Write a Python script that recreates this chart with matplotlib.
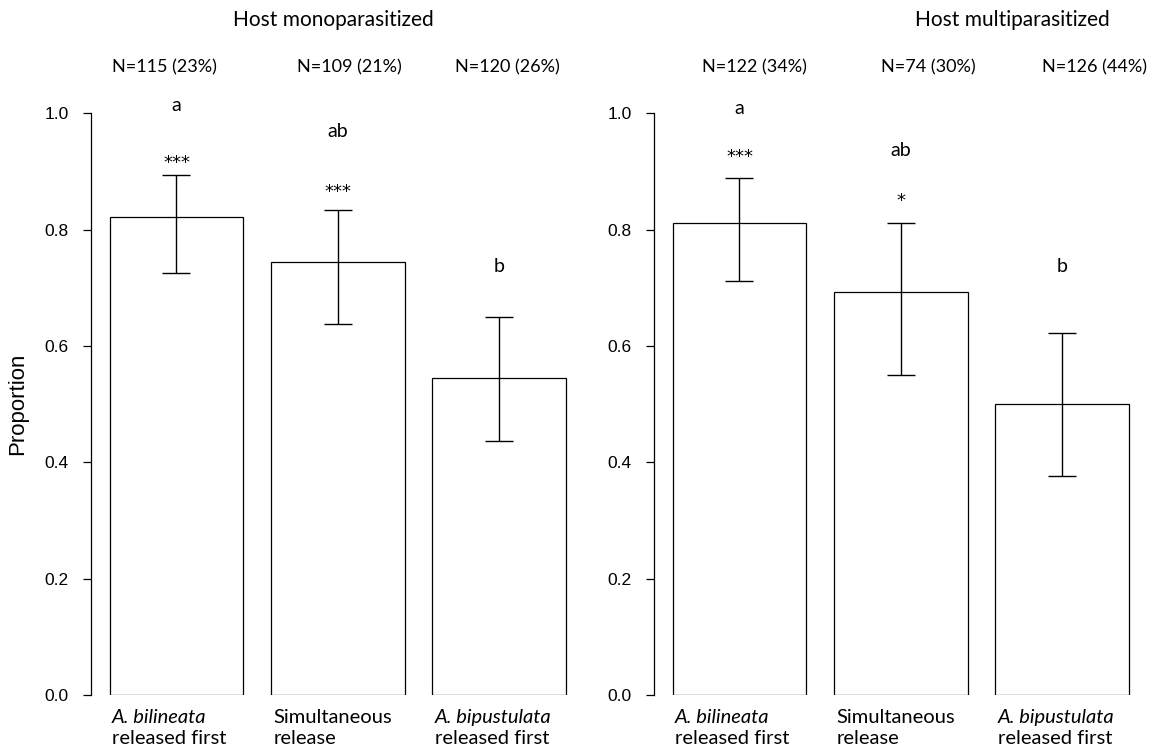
import matplotlib
matplotlib.use("Agg")
import matplotlib.pyplot as plt

# ---- data ----
categories = [("A. bilineata", "released first"),
              ("Simultaneous", "release"),
              ("A. bipustulata", "released first")]
italic_first = [True, False, True]

panel_titles = ["Host monoparasitized", "Host multiparasitized"]
n_labels = [["N=115 (23%)", "N=109 (21%)", "N=120 (26%)"],
            ["N=122 (34%)", "N=74 (30%)", "N=126 (44%)"]]

mono_vals = [0.821, 0.745, 0.545]
mono_lo = [0.725, 0.637, 0.437]
mono_hi = [0.893, 0.833, 0.649]
mono_stars = ["***", "***", ""]
mono_letters = ["a", "ab", "b"]

multi_vals = [0.811, 0.692, 0.500]
multi_lo = [0.711, 0.550, 0.377]
multi_hi = [0.888, 0.811, 0.623]
multi_stars = ["***", "*", ""]
multi_letters = ["a", "ab", "b"]

yticks = [0.0, 0.2, 0.4, 0.6, 0.8, 1.0]

# ---- layout ----
W, H = 1153, 748
fig = plt.figure(figsize=(W / 100, H / 100), dpi=100)
arial = "Liberation Sans"
calib = "Lato"

ax_left = [0.0789, 0.5672]
panels = [
    (mono_vals, mono_lo, mono_hi, mono_stars, mono_letters),
    (multi_vals, multi_lo, multi_hi, multi_stars, multi_letters),
]
letter_y = [[1.014, 0.968, 0.737], [1.008, 0.936, 0.737]]
star_y = [[0.915, 0.865, 0.0], [0.925, 0.849, 0.0]]
n_offsets = [[-0.074, 0.074, 0.05], [0.09, 0.17, 0.2]]
title_x = [0.289, 0.878]

for p, (vals, lo, hi, stars, letters) in enumerate(panels):
    ax = fig.add_axes([ax_left[p], 0.0709, 0.438, 0.7777])
    x = list(range(len(vals)))
    yerr = [[v - l for v, l in zip(vals, lo)], [h - v for v, h in zip(vals, hi)]]
    ax.bar(x, vals, width=0.83, color="white", edgecolor="black", linewidth=0.9)
    ax.errorbar(x, vals, yerr=yerr, fmt="none", ecolor="black",
                elinewidth=1.0, capsize=10, capthick=1.0)
    ax.set_xlim(-0.53, 2.6)
    ax.set_ylim(0, 1.0)
    ax.set_yticks(yticks)
    ax.set_yticklabels([f"{t:.1f}" for t in yticks], fontfamily=arial, fontsize=12.5)
    for s in ["top", "right", "bottom"]:
        ax.spines[s].set_visible(False)
    ax.spines["left"].set_linewidth(0.9)
    ax.tick_params(axis="y", direction="out", length=6, width=0.9, pad=10)
    ax.set_xticks([])
    for i in x:
        if stars[i]:
            ax.text(i, star_y[p][i], stars[i], ha="center", va="center",
                    fontfamily="DejaVu Sans", fontsize=13, clip_on=False)
        ax.text(i, letter_y[p][i], letters[i], ha="center", va="center",
                fontfamily=calib, fontsize=14, clip_on=False)
        ax.text(i + n_offsets[p][i], 1.078, n_labels[p][i], ha="center",
                va="center", fontfamily=calib, fontsize=13, clip_on=False)
        l1, l2 = categories[i]
        ax.text(i - 0.40, -0.038, l1, ha="left", va="center",
                fontfamily=calib, fontsize=14.5,
                fontstyle="italic" if italic_first[i] else "normal", clip_on=False)
        ax.text(i - 0.40, -0.075, l2, ha="left", va="center",
                fontfamily=calib, fontsize=14.5, clip_on=False)
    if p == 0:
        ax.set_ylabel("Proportion", fontfamily=arial, fontsize=16, labelpad=12)
    fig.text(title_x[p], 0.973, panel_titles[p], ha="center", va="center",
             fontfamily=calib, fontsize=15)

fig.savefig("out.png", dpi=100)
